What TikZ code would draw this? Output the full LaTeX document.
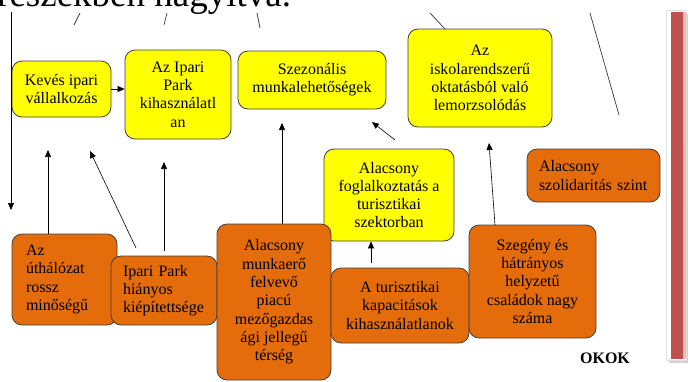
\documentclass[tikz,border=0pt]{standalone}
\usepackage{fontspec}
\setmainfont{Liberation Serif}
\usetikzlibrary{arrows.meta}
\definecolor{boxyellow}{HTML}{FFFF00}
\definecolor{boxorange}{HTML}{E46C0A}
\definecolor{barred}{HTML}{C0504D}
\definecolor{barpink}{HTML}{E6B9B8}
\begin{document}
\begin{tikzpicture}[x=1pt,y=-1pt,
  box/.style={draw=black!75, line width=0.8pt, rounded corners=10pt,
    font=\fontsize{16}{18.3}\selectfont, align=center, inner sep=2pt},
  ybox/.style={box, fill=boxyellow},
  obox/.style={box, fill=boxorange},
  arr/.style={-{Triangle[length=7pt,width=6pt]}, line width=0.6pt, draw=black},
  stray/.style={line width=0.7pt, draw=black!80}]
\useasboundingbox (0,0) rectangle (690,381);
\clip (0,0) rectangle (690,381);

% title (cut at top)
\node[anchor=base west, inner sep=0pt, font=\fontsize{37}{37}\selectfont] (title) at (-3,6) {részekben nagyítva.};

% stray lines from the cropped diagram above
\coordinate (s1a) at (80,13); \coordinate (s1b) at (74,25);
\coordinate (s2a) at (167,13); \coordinate (s2b) at (164,25);
\coordinate (s3a) at (257,13); \coordinate (s3b) at (260,28);
\coordinate (s4a) at (430,13); \coordinate (s4b) at (445,29);
\coordinate (s5a) at (590,13); \coordinate (s5b) at (619,115);
\draw[stray] (s1a) -- (s1b);
\draw[stray] (s2a) -- (s2b);
\draw[stray] (s3a) -- (s3b);
\draw[stray] (s4a) -- (s4b);
\draw[stray] (s5a) -- (s5b);

% red side bar
\fill[black!18] (669,14) rectangle (688,363);
\filldraw[fill=white, draw=black!12] (666.5,10) rectangle (686.5,360);
\fill[barred] (670.5,12) rectangle (683,359);
\fill[barpink] (683,12) rectangle (685.5,359);

% yellow boxes
\node[ybox, minimum width=99pt, minimum height=56pt] (keves) at (61.5,89) {Kevés ipari\\vállalkozás};
\node[ybox, minimum width=106pt, minimum height=89pt] (park) at (178,94.5) {Az Ipari\\Park\\kihasználatl\\an};
\node[ybox, minimum width=148pt, minimum height=58pt] (szez) at (312,80) {Szezonális\\munkalehetőségek};
\node[ybox, minimum width=144pt, minimum height=98pt] (iskola) at (480,78) {Az\\iskolarendszerű\\oktatásból való\\lemorzsolódás};
\node[ybox, minimum width=130pt, minimum height=92pt] (fogl) at (389,195) {Alacsony\\foglalkoztatás a\\turisztikai\\szektorban};

% orange boxes
\node[obox, align=left, text width=109pt, inner xsep=12pt, minimum height=53pt] (szol) at (593.5,175.5) {Alacsony\\szolidaritás szint};
\node[obox, align=left, text width=77pt, inner xsep=14pt, minimum height=91pt] (ut) at (64.5,279.5) {Az\\úthálózat\\rossz\\minőségű};
\node[obox, align=left, text width=82pt, inner xsep=12pt, minimum height=69pt] (hiany) at (164,290.5) {Ipari Park\\hiányos\\kiépítettsége};
\node[obox, minimum width=114pt, minimum height=156pt] (munka) at (274,302) {Alacsony\\munkaerő\\felvevő\\piacú\\mezőgazdas\\ági jellegű\\térség};
\node[obox, minimum width=138pt, minimum height=75pt] (turk) at (400,305.5) {A turisztikai\\kapacitások\\kihasználatlanok};
\node[obox, minimum width=127pt, minimum height=113pt] (szeg) at (532.5,281.5) {Szegény és\\hátrányos\\helyzetű\\családok nagy\\száma};

\node[font=\fontsize{16}{18}\selectfont\bfseries, inner sep=0pt] (okok) at (605,358) {OKOK};

% connectors
\coordinate (lt) at (11,12); \coordinate (lb) at (11,210);
\draw[arr] (lt) -- (lb);
\draw[arr] (keves.east) -- (park.west |- keves.east);
\coordinate (a1) at (48,150);
\draw[arr] (ut.north -| a1) -- (a1);
\coordinate (a2s) at (136,248); \coordinate (a2) at (90,151);
\draw[arr] (a2s) -- (a2);
\coordinate (a3s) at (164,251); \coordinate (a3) at (164,162);
\draw[arr] (a3s) -- (a3);
\coordinate (a4) at (282,123);
\draw[arr] (munka.north -| a4) -- (a4);
\coordinate (a5s) at (395,140); \coordinate (a5) at (372,122);
\draw[arr] (a5s) -- (a5);
\coordinate (a6s) at (495,225); \coordinate (a6) at (489,143);
\draw[arr] (a6s) -- (a6);
\coordinate (a7s) at (371,263);
\draw[arr] (a7s) -- (fogl.south -| a7s);
\end{tikzpicture}
\end{document}
